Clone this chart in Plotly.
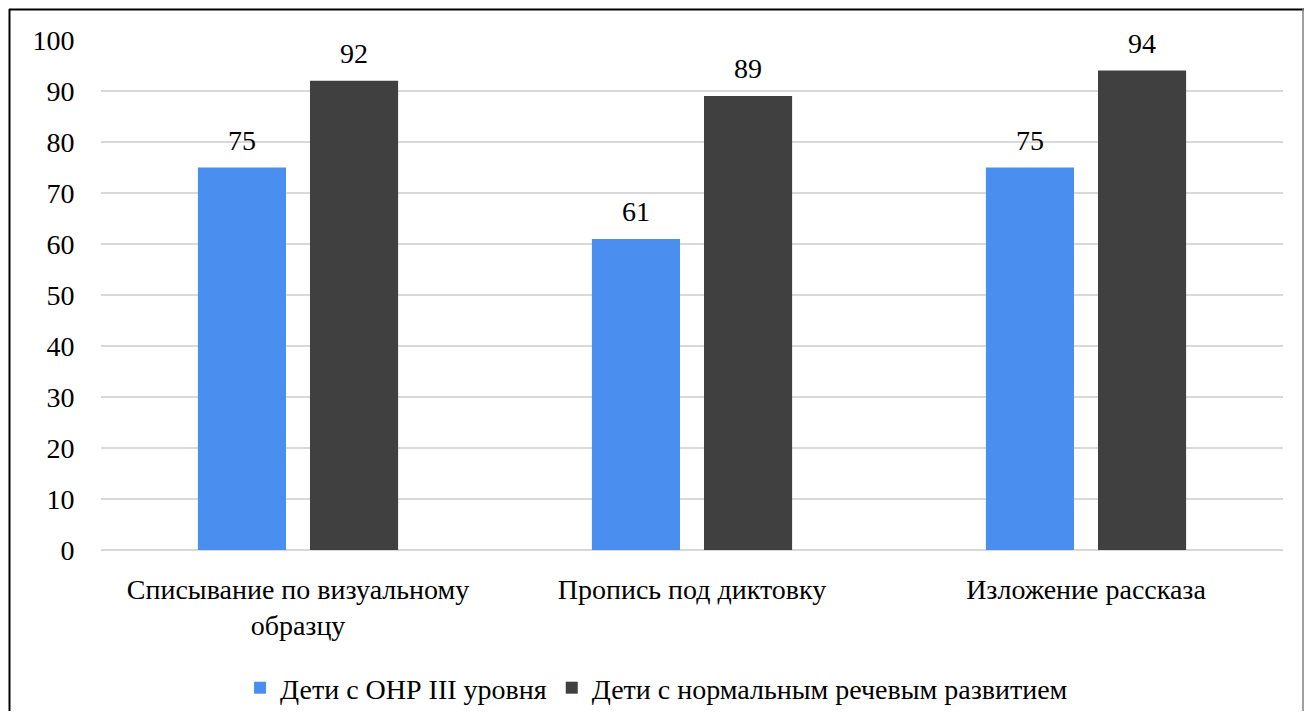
import plotly.graph_objects as go

categories = ["Списывание по визуальному<br>образцу", "Пропись под диктовку", "Изложение рассказа"]
series_names = ["Дети с ОНР III уровня", "Дети с нормальным речевым развитием"]
onr_values = [75, 61, 75]
norm_values = [92, 89, 94]
y_ticks = [0, 10, 20, 30, 40, 50, 60, 70, 80, 90, 100]

FONT = "Liberation Serif, Tinos, Times New Roman, DejaVu Serif"
OFF = 8  # page body margin
W, H = 1312 - 2 * OFF, 719 - 2 * OFF
L, R, T, B = 101 - OFF, 29 - OFF, 40 - OFF, 169 - OFF
pw, ph = W - L - R, H - T - B

def px(x):
    return (x - OFF - L) / pw

def py(y):
    return (H - B - (y - OFF)) / ph

fig = go.Figure()
fig.add_trace(go.Bar(x=categories, y=onr_values, name=series_names[0],
                     marker=dict(color="#4a8ff0", line=dict(width=0))))
fig.add_trace(go.Bar(x=categories, y=norm_values, name=series_names[1],
                     marker=dict(color="#404040", line=dict(width=0))))

annotations = []
for vals, shift in ((onr_values, -56), (norm_values, 56)):
    for c, v in zip(categories, vals):
        annotations.append(dict(x=c, y=v, xref="x", yref="y", text=str(v), showarrow=False,
                                xshift=shift, yshift=10, yanchor="bottom",
                                font=dict(family=FONT, size=28, color="#000")))

fig.update_layout(
    template="none",
    width=W, height=H,
    margin=dict(l=L, r=R, t=T, b=B, pad=0, autoexpand=False),
    paper_bgcolor="white", plot_bgcolor="white",
    barmode="group", bargap=0.431, bargroupgap=0.214,
    font=dict(family=FONT, size=28, color="#000"),
    showlegend=True,
    legend=dict(orientation="h", x=0.47, xanchor="center", y=py(688), yanchor="middle",
                font=dict(family=FONT, size=28, color="#000"), itemwidth=30,
                traceorder="normal", bgcolor="rgba(0,0,0,0)"),
    xaxis=dict(automargin=False, showgrid=False, showline=False, zeroline=False,
               ticks="outside", ticklen=14,
               tickcolor="rgba(0,0,0,0)", tickfont=dict(family=FONT, size=28)),
    yaxis=dict(automargin=False, range=[0, 100], tickvals=y_ticks, showgrid=True, gridcolor="#d9d9d9",
               gridwidth=1.5, zeroline=True, zerolinecolor="#d9d9d9", zerolinewidth=1.5,
               showline=False, ticks="outside", ticklen=20, tickcolor="rgba(0,0,0,0)",
               tickfont=dict(family=FONT, size=28)),
    annotations=annotations,
    shapes=[
        dict(type="line", xref="paper", yref="paper", x0=px(9.5), x1=px(9.5), y0=py(9), y1=py(730),
             line=dict(color="#000", width=2)),
        dict(type="line", xref="paper", yref="paper", x0=px(9), x1=px(1311), y0=py(9.5), y1=py(9.5),
             line=dict(color="#000", width=2)),
        dict(type="line", xref="paper", yref="paper", x0=px(1303), x1=px(1303), y0=py(9), y1=py(730),
             line=dict(color="#808080", width=1.5)),
    ],
)

fig.write_html("out.html")
